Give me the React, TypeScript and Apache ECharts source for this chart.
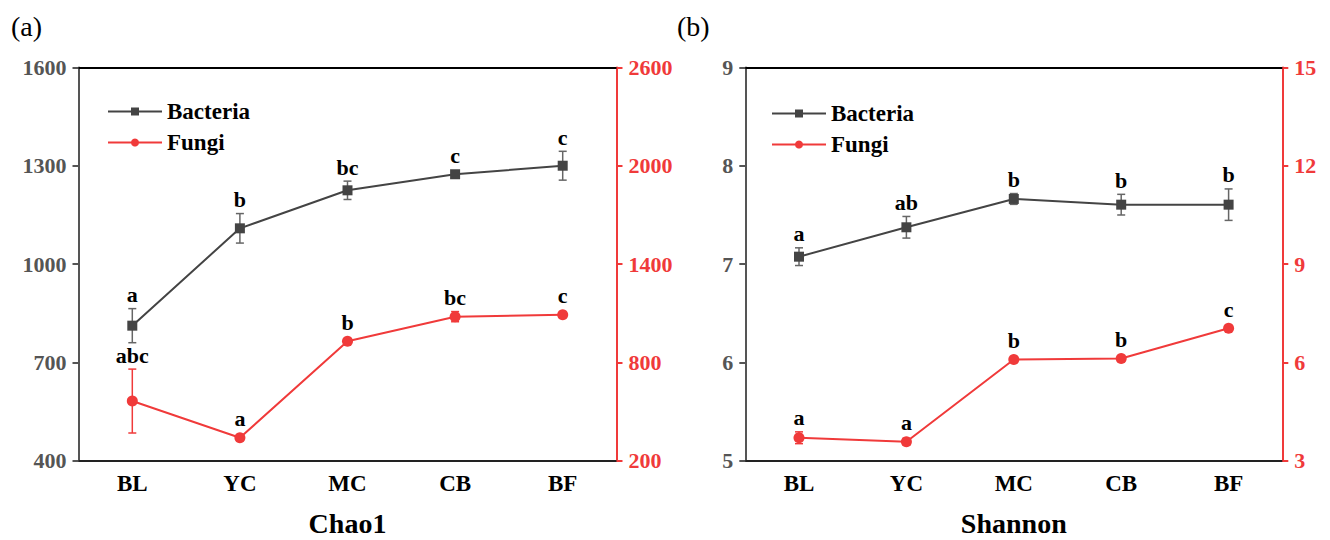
import React, { useEffect, useRef } from "react";
import * as echarts from "echarts";

const categories = ["BL", "YC", "MC", "CB", "BF"];

const chaoBacteria = [812, 1109, 1225, 1274, 1300];
const chaoBacteriaErr = [52, 45, 28, 6, 44];
const chaoBacteriaSig = ["a", "b", "bc", "c", "c"];
const chaoFungi = [564, 340, 929, 1079, 1091];
const chaoFungiErr = [195, 10, 12, 31, 8];
const chaoFungiSig = ["abc", "a", "b", "bc", "c"];

const shannonBacteria = [7.075, 7.374, 7.662, 7.604, 7.604];
const shannonBacteriaErr = [0.09, 0.11, 0.055, 0.105, 0.16];
const shannonBacteriaSig = ["a", "ab", "b", "b", "b"];
const shannonFungi = [3.7, 3.58, 6.09, 6.12, 7.04];
const shannonFungiErr = [0.18, 0.1, 0.05, 0.05, 0.04];
const shannonFungiSig = ["a", "a", "b", "b", "c"];

const chaoLeftAxis = { min: 400, max: 1600, interval: 300 };
const chaoRightAxis = { min: 200, max: 2600, interval: 600 };
const shannonLeftAxis = { min: 5, max: 9, interval: 1 };
const shannonRightAxis = { min: 3, max: 15, interval: 3 };

const panelTitles = ["Chao1", "Shannon"];
const panelLabels = ["(a)", "(b)"];

const SERIF = '"Liberation Serif", "Times New Roman", serif';
const BAC = "#444444";
const FUN = "#f03a3a";
const GRAY = "#555555";

function errSeries(name: string, vals: number[], errs: number[], sig: string[], gridIdx: number, yIdx: number, color: string) {
  return {
    type: "custom",
    name: name + "_err",
    xAxisIndex: gridIdx * 2,
    yAxisIndex: yIdx,
    z: 1,
    data: vals.map((v, i) => [i, v, errs[i]]),
    encode: { x: 0, y: 1 },
    renderItem: (params: any, api: any) => {
      const i = api.value(0);
      const v = api.value(1);
      const e = api.value(2);
      const c = api.coord([i, v]);
      const top = api.coord([i, v + e]);
      const bot = api.coord([i, v - e]);
      const x = c[0];
      const hw = 4;
      const lineStyle = { stroke: color, lineWidth: 1.5 };
      const ty = Math.min(top[1], c[1] - 5) - 3;
      return {
        type: "group",
        children: [
          { type: "line", shape: { x1: x, y1: top[1], x2: x, y2: bot[1] }, style: lineStyle },
          { type: "line", shape: { x1: x - hw, y1: top[1], x2: x + hw, y2: top[1] }, style: lineStyle },
          { type: "line", shape: { x1: x - hw, y1: bot[1], x2: x + hw, y2: bot[1] }, style: lineStyle },
          {
            type: "text",
            z2: 10,
            style: {
              text: sig[params.dataIndex],
              x: x,
              y: ty,
              align: "center",
              verticalAlign: "bottom",
              textAlign: "center",
              textVerticalAlign: "bottom",
              font: `bold 22px ${SERIF}`,
              fill: "#000",
            },
          },
        ],
      };
    },
  };
}

function lineSeries(name: string, vals: number[], gridIdx: number, yIdx: number, color: string, symbol: string) {
  return {
    type: "line",
    name,
    xAxisIndex: gridIdx * 2,
    yAxisIndex: yIdx,
    z: 3,
    data: vals,
    symbol,
    symbolSize: symbol === "rect" ? 10 : 11,
    lineStyle: { color, width: 2 },
    itemStyle: { color },
  };
}

export default function App() {
  const ref = useRef<HTMLDivElement>(null);
  useEffect(() => {
    if (!ref.current) return;
    const chart = echarts.init(ref.current, null, { renderer: "svg" });
    const grids = [
      { left: 78.5, width: 538, top: 67.4, height: 393.3, containLabel: false, outerBoundsMode: "none" },
      { left: 745.3, width: 537, top: 67.4, height: 393.3, containLabel: false, outerBoundsMode: "none" },
    ];
    const xAxes: any[] = [];
    [0, 1].forEach((g) => {
      xAxes.push({
        type: "category",
        gridIndex: g,
        data: categories,
        boundaryGap: true,
        position: "bottom",
        axisLine: { lineStyle: { color: "#222", width: 2 } },
        axisTick: { alignWithLabel: true, length: 6, lineStyle: { color: "#222", width: 2 } },
        axisLabel: { color: "#000", fontFamily: SERIF, fontWeight: "bold", fontSize: 23, margin: 11 },
        name: panelTitles[g],
        nameLocation: "middle",
        nameGap: 49,
        nameTextStyle: { color: "#000", fontFamily: SERIF, fontWeight: "bold", fontSize: 28 },
        splitLine: { show: false },
      });
      xAxes.push({
        type: "category",
        gridIndex: g,
        data: categories,
        position: "top",
        axisLine: { lineStyle: { color: "#000", width: 2 } },
        axisTick: { show: false },
        axisLabel: { show: false },
        splitLine: { show: false },
      });
    });
    const yAx = (g: number, ax: any, pos: string, color: string, labelColor: string) => ({
      type: "value",
      gridIndex: g,
      position: pos,
      min: ax.min,
      max: ax.max,
      interval: ax.interval,
      axisLine: { show: true, lineStyle: { color, width: 2 } },
      axisTick: { show: true, length: 6, lineStyle: { color, width: 2 } },
      axisLabel: {
        color: labelColor,
        fontFamily: SERIF,
        fontWeight: "bold",
        fontSize: 22,
        margin: 12,
        formatter: (v: number) => String(v),
      },
      splitLine: { show: false },
    });
    const legendBase = {
      orient: "vertical",
      padding: 0,
      itemWidth: 54,
      itemHeight: 10,
      itemGap: 8,
      data: ["Bacteria", "Fungi"],
      textStyle: { color: "#000", fontFamily: SERIF, fontWeight: "bold", fontSize: 23 },
    };
    const option: any = {
      animation: false,
      backgroundColor: "#fff",
      grid: grids,
      xAxis: xAxes,
      yAxis: [
        yAx(0, chaoLeftAxis, "left", GRAY, GRAY),
        yAx(0, chaoRightAxis, "right", FUN, FUN),
        yAx(1, shannonLeftAxis, "left", GRAY, GRAY),
        yAx(1, shannonRightAxis, "right", FUN, FUN),
      ],
      legend: [
        { ...legendBase, left: 107, top: 100 },
        { ...legendBase, left: 771, top: 102 },
      ],
      graphic: [
        { type: "text", left: 11, top: 12, style: { text: panelLabels[0], font: `28px ${SERIF}`, fill: "#000" } },
        { type: "text", left: 677, top: 12, style: { text: panelLabels[1], font: `28px ${SERIF}`, fill: "#000" } },
      ],
      series: [
        errSeries("Bacteria", chaoBacteria, chaoBacteriaErr, chaoBacteriaSig, 0, 0, "#666"),
        errSeries("Fungi", chaoFungi, chaoFungiErr, chaoFungiSig, 0, 1, FUN),
        lineSeries("Bacteria", chaoBacteria, 0, 0, BAC, "rect"),
        lineSeries("Fungi", chaoFungi, 0, 1, FUN, "circle"),
        errSeries("Bacteria", shannonBacteria, shannonBacteriaErr, shannonBacteriaSig, 1, 2, "#666"),
        errSeries("Fungi", shannonFungi, shannonFungiErr, shannonFungiSig, 1, 3, FUN),
        lineSeries("Bacteria", shannonBacteria, 1, 2, BAC, "rect"),
        lineSeries("Fungi", shannonFungi, 1, 3, FUN, "circle"),
      ],
    };
    chart.setOption(option);
    return () => chart.dispose();
  }, []);
  return (
    <div
      ref={ref}
      style={{ position: "fixed", left: 0, top: 0, width: 1330, height: 540, background: "#fff" }}
    />
  );
}
